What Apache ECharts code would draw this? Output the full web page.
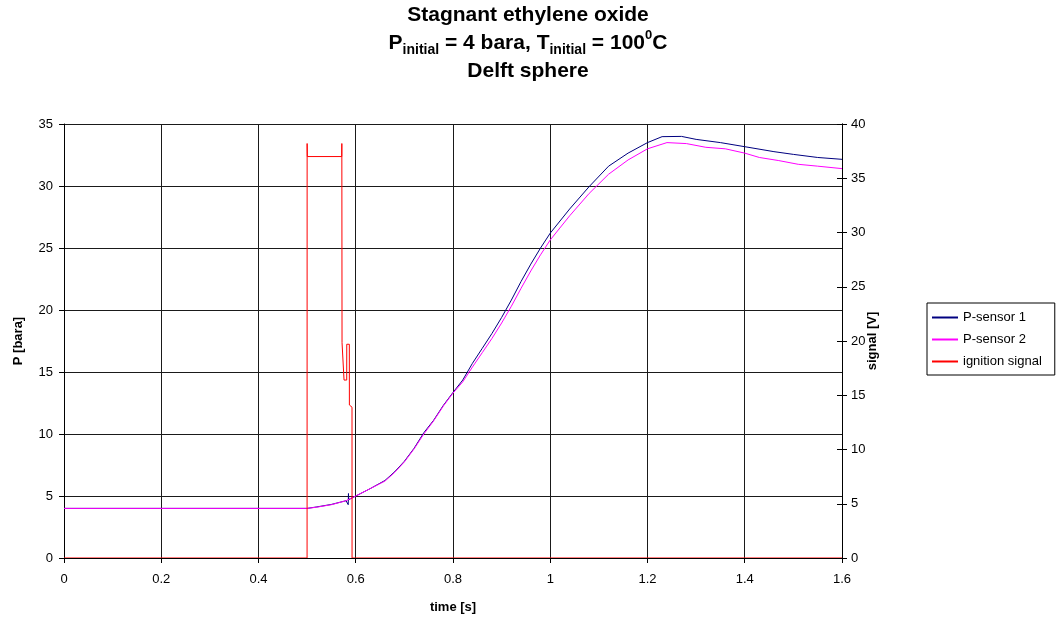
<!DOCTYPE html>
<html><head><meta charset="utf-8">
<script src="https://cdn.jsdelivr.net/npm/echarts@6/dist/echarts.min.js"></script>
<style>html,body{margin:0;padding:0;background:#fff}#c{width:1056px;height:619px}</style>
</head><body><div id="c"></div>
<script>
// ---- data ----
const seriesNames = ['P-sensor 1', 'P-sensor 2', 'ignition signal'];

const sensor1Time = [0, 0.5, 0.52, 0.55, 0.58, 0.5845, 0.585, 0.5855, 0.6, 0.63, 0.66, 0.68, 0.7, 0.72, 0.74, 0.76, 0.78, 0.8, 0.82, 0.84, 0.86, 0.88, 0.9, 0.92, 0.94, 0.96, 0.98, 1.0, 1.04, 1.08, 1.12, 1.16, 1.2, 1.23, 1.27, 1.3, 1.35, 1.4, 1.46, 1.5, 1.55, 1.6];
const sensor1P    = [4.0, 4.0, 4.12, 4.32, 4.62, 4.3, 5.2, 4.7, 5.0, 5.6, 6.25, 6.95, 7.8, 8.85, 10.1, 11.1, 12.3, 13.35, 14.35, 15.7, 16.9, 18.1, 19.4, 20.8, 22.3, 23.7, 25.0, 26.2, 28.15, 29.95, 31.6, 32.65, 33.5, 33.98, 34.0, 33.76, 33.5, 33.17, 32.77, 32.55, 32.3, 32.15];

const sensor2Time = [0, 0.5, 0.52, 0.55, 0.58, 0.6, 0.63, 0.66, 0.68, 0.7, 0.72, 0.74, 0.76, 0.78, 0.8, 0.82, 0.84, 0.86, 0.88, 0.9, 0.92, 0.94, 0.96, 0.98, 1.0, 1.04, 1.08, 1.12, 1.16, 1.2, 1.24, 1.28, 1.32, 1.36, 1.4, 1.43, 1.47, 1.51, 1.55, 1.6];
const sensor2P    = [4.0, 4.0, 4.1, 4.3, 4.62, 5.0, 5.6, 6.2, 6.9, 7.75, 8.8, 10.0, 11.05, 12.25, 13.3, 14.2, 15.4, 16.55, 17.7, 18.95, 20.3, 21.75, 23.15, 24.45, 25.65, 27.6, 29.4, 30.95, 32.1, 33.0, 33.5, 33.42, 33.12, 33.0, 32.65, 32.3, 32.05, 31.75, 31.6, 31.4];

const ignitionTime = [0, 0.4999, 0.5, 0.5004, 0.5712, 0.5714, 0.5718, 0.5758, 0.5759, 0.5814, 0.5815, 0.5868, 0.5869, 0.5923, 0.5924, 1.6];
const ignitionV    = [0, 0, 38.2, 37.0, 37.0, 38.2, 19.85, 19.85, 16.4, 16.4, 19.7, 19.7, 14.1, 13.9, 0, 0];

const xRange = {min: 0, max: 1.6, interval: 0.2};
const pRange = {min: 0, max: 35, interval: 5};
const vRange = {min: 0, max: 40, interval: 5};

// ---- chart ----
const FONT = '"Liberation Sans", Arial, sans-serif';
const zip = (a, b) => a.map((v, i) => [v, b[i]]);
const chart = echarts.init(document.getElementById('c'), null, {renderer: 'canvas'});

const labelStyle = {color: '#000', fontFamily: FONT, fontSize: 13};
const nameStyle = {color: '#000', fontFamily: FONT, fontSize: 13, fontWeight: 'bold'};

chart.setOption({
  animation: false,
  backgroundColor: '#fff',
  title: {
    left: 'center', top: 1, padding: 0,
    text: 'Stagnant ethylene oxide\n{m|P}{s|initial}{m| = 4 bara, T}{s|initial}{m| = 100}{p|0}{m|C}\nDelft sphere',
    textStyle: {
      fontFamily: FONT, fontSize: 21, fontWeight: 'bold', color: '#000', lineHeight: 28,
      rich: {
        m: {fontFamily: FONT, fontSize: 21, fontWeight: 'bold', color: '#000', lineHeight: 28},
        s: {fontFamily: FONT, fontSize: 14, fontWeight: 'bold', color: '#000', lineHeight: 17, verticalAlign: 'bottom'},
        p: {fontFamily: FONT, fontSize: 13, fontWeight: 'bold', color: '#000', lineHeight: 22, verticalAlign: 'top'}
      }
    }
  },
  legend: {
    data: seriesNames,
    orient: 'vertical', left: 927, top: 303,
    itemWidth: 26, itemHeight: 14, itemGap: 9,
    padding: [8, 13, 7, 4],
    itemStyle: {opacity: 0},
    borderColor: '#000', borderWidth: 1, borderRadius: 0,
    textStyle: {color: '#000', fontFamily: FONT, fontSize: 13}
  },
  grid: {left: 64, right: 214, top: 124, bottom: 61, containLabel: false, show: false},
  xAxis: [{
    type: 'value', min: xRange.min, max: xRange.max, interval: xRange.interval,
    name: 'time [s]', nameLocation: 'middle', nameGap: 43, nameTextStyle: nameStyle,
    axisLine: {show: true, onZero: false, lineStyle: {color: '#000', width: 1}},
    axisTick: {show: true, inside: false, length: 5, lineStyle: {color: '#000'}},
    axisLabel: Object.assign({margin: 15}, labelStyle),
    splitLine: {show: true, lineStyle: {color: '#1a1a1a', width: 1}}
  }, {
    type: 'value', position: 'bottom', min: xRange.min, max: xRange.max, interval: xRange.interval,
    z: 10,
    axisLine: {show: true, onZero: false, lineStyle: {color: '#000', width: 1}},
    axisTick: {show: false}, axisLabel: {show: false}, splitLine: {show: false}
  }],
  yAxis: [{
    type: 'value', position: 'left', min: pRange.min, max: pRange.max, interval: pRange.interval,
    name: 'P [bara]', nameLocation: 'middle', nameGap: 39, nameRotate: 90, nameTextStyle: nameStyle,
    axisLine: {show: true, onZero: false, lineStyle: {color: '#000', width: 1}},
    axisTick: {show: true, inside: false, length: 5, lineStyle: {color: '#000'}},
    axisLabel: Object.assign({margin: 11}, labelStyle),
    splitLine: {show: true, lineStyle: {color: '#1a1a1a', width: 1}}
  }, {
    type: 'value', position: 'right', min: vRange.min, max: vRange.max, interval: vRange.interval,
    name: 'signal [V]', nameLocation: 'middle', nameGap: 24, nameRotate: 90, nameTextStyle: nameStyle,
    nameMoveOverlap: false,
    axisLine: {show: true, onZero: false, lineStyle: {color: '#000', width: 1}},
    axisTick: {show: true, inside: false, length: 5, lineStyle: {color: '#000'}},
    axisLabel: Object.assign({margin: 9}, labelStyle),
    splitLine: {show: false}
  }, {
    type: 'value', position: 'right', min: vRange.min, max: vRange.max, interval: vRange.interval,
    z: 10,
    axisLine: {show: true, onZero: false, lineStyle: {color: '#000', width: 1}},
    axisTick: {show: true, inside: true, length: 5, lineStyle: {color: '#000'}},
    axisLabel: {show: false}, splitLine: {show: false}
  }],
  series: [{
    name: seriesNames[0], type: 'line', xAxisIndex: 0, yAxisIndex: 0,
    data: zip(sensor1Time, sensor1P), showSymbol: false, symbol: 'none',
    lineStyle: {color: '#000080', width: 1}, itemStyle: {color: '#000080'}
  }, {
    name: seriesNames[1], type: 'line', xAxisIndex: 0, yAxisIndex: 0,
    data: zip(sensor2Time, sensor2P), showSymbol: false, symbol: 'none',
    lineStyle: {color: '#ff00ff', width: 1}, itemStyle: {color: '#ff00ff'}
  }, {
    name: seriesNames[2], type: 'line', xAxisIndex: 0, yAxisIndex: 1,
    data: zip(ignitionTime, ignitionV), showSymbol: false, symbol: 'none',
    lineStyle: {color: '#ff0000', width: 1}, itemStyle: {color: '#ff0000'}
  }]
});
</script></body></html>
